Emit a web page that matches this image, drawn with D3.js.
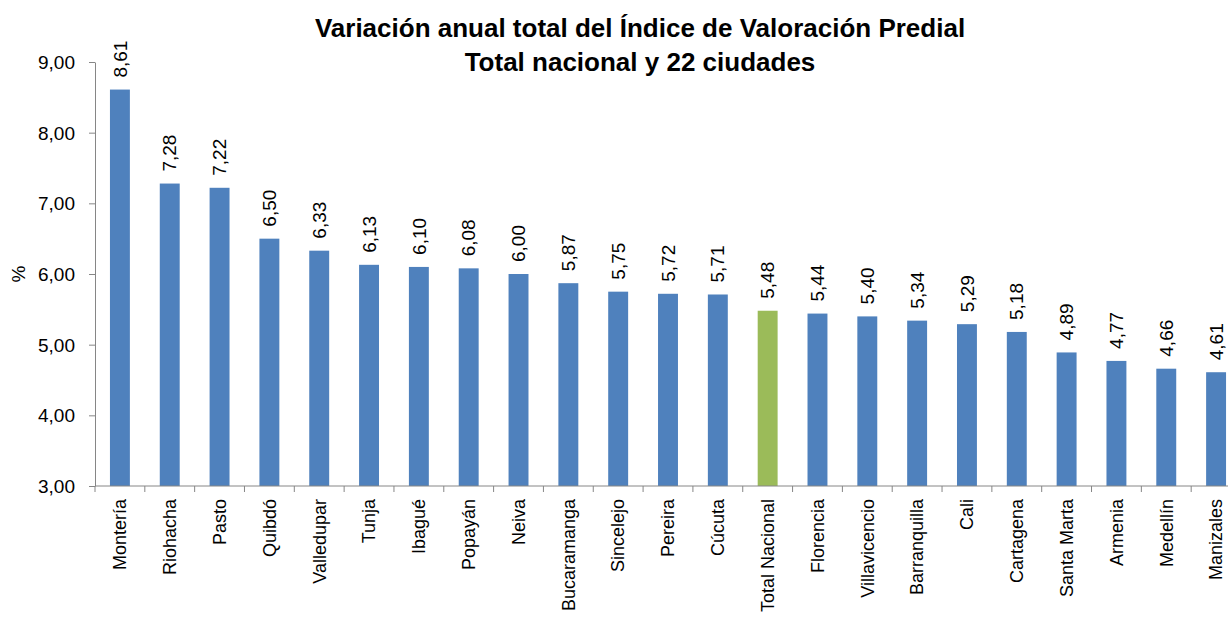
<!DOCTYPE html>
<html>
<head>
<meta charset="utf-8">
<script src="https://cdn.jsdelivr.net/npm/d3@7"></script>
<style>
  body { margin: 0; background: #fff; }
  text { font-family: "Liberation Sans", "DejaVu Sans", sans-serif; fill: #000; }
</style>
</head>
<body>
<div id="chart"></div>
<script>

const ciudades = [ "Montería", "Riohacha", "Pasto", "Quibdó", "Valledupar", "Tunja", "Ibagué",
	"Popayán", "Neiva", "Bucaramanga", "Sincelejo", "Pereira", "Cúcuta", "Total Nacional",
	"Florencia", "Villavicencio", "Barranquilla", "Cali", "Cartagena", "Santa Marta",
	"Armenia", "Medellín", "Manizales" ] ;
const variacion = [ 8.61, 7.28, 7.22, 6.50, 6.33, 6.13, 6.10, 6.08, 6.00, 5.87, 5.75, 5.72,
	5.71, 5.48, 5.44, 5.40, 5.34, 5.29, 5.18, 4.89, 4.77, 4.66, 4.61 ] ;
const yTicks = [ 3, 4, 5, 6, 7, 8, 9 ] ;
const titulo = [ "Variación anual total del Índice de Valoración Predial", "Total nacional y 22 ciudades" ] ;

const width = 1228 ;
const height = 617 ;
const mLeft = 95, mTop = 62, mBottom = 486, mRight = 1241 ;
const fs = 19 ;
const fsCat = 18 ;

const fmt = v => d3.format(".2f")(v).replace(".", ",") ;

const svg = d3.select("#chart").append("svg")
	.attr("width", width)
	.attr("height", height) ;

const data = ciudades.map( (c, i) => ({ ciudad: c, valor: variacion[i] }) ) ;

const x = d3.scaleBand()
	.domain( ciudades )
	.range( [mLeft, mRight] )
	.paddingInner( 0.6 )
	.paddingOuter( 0.3 ) ;

const y = d3.scaleLinear()
	.domain( [3, 9] )
	.range( [mBottom, mTop] ) ;

// titulo
svg.selectAll("text.title")
	.data( titulo )
	.enter()
		.append("text")
			.attr("class", "title")
			.attr("x", 640)
			.attr("y", (d, i) => 37 + i * 34)
			.attr("text-anchor", "middle")
			.style("font-size", "26px")
			.style("font-weight", "bold")
			.text( d => d ) ;

// eje y
const yAxis = svg.append("g")
	.attr("transform", `translate(${mLeft},0)`)
	.call( d3.axisLeft(y).tickValues(yTicks).tickFormat(fmt).tickSize(6).tickSizeOuter(0) ) ;
yAxis.select(".domain").attr("stroke", "#868686") ;
yAxis.selectAll(".tick line").attr("stroke", "#868686") ;
yAxis.selectAll(".tick text")
	.attr("x", -20)
	.attr("dy", "0.35em")
	.style("font-size", fs + "px")
	.style("font-family", "'Liberation Sans', sans-serif") ;

svg.append("text")
	.attr("transform", `translate(25,${y(6)}) rotate(-90)`)
	.attr("text-anchor", "middle")
	.style("font-size", fs + "px")
	.text("%") ;

// barras
svg.selectAll("rect.bar")
	.data( data )
	.enter()
		.append("rect")
			.attr("class", "bar")
			.attr("x", d => x(d.ciudad))
			.attr("width", x.bandwidth())
			.attr("y", d => y(d.valor))
			.attr("height", d => y(3) - y(d.valor))
			.attr("fill", d => d.ciudad === "Total Nacional" ? "#9BBB59" : "#4F81BD") ;

// etiquetas de valor
svg.selectAll("text.value")
	.data( data )
	.enter()
		.append("text")
			.attr("class", "value")
			.attr("transform", d => `translate(${x(d.ciudad) + x.bandwidth() / 2 + fs * 0.35},${y(d.valor) - 12}) rotate(-90)`)
			.style("font-size", fs + "px")
			.text( d => fmt(d.valor) ) ;

// eje x
const step = x.step() ;
const xAxis = svg.append("g") ;
xAxis.append("line")
	.attr("x1", mLeft).attr("x2", mRight)
	.attr("y1", mBottom).attr("y2", mBottom)
	.attr("stroke", "#868686") ;
xAxis.selectAll("line.tick")
	.data( d3.range(ciudades.length + 1) )
	.enter()
		.append("line")
			.attr("class", "tick")
			.attr("x1", i => mLeft + i * step).attr("x2", i => mLeft + i * step)
			.attr("y1", mBottom).attr("y2", mBottom + 6)
			.attr("stroke", "#868686") ;
xAxis.selectAll("text.cat")
	.data( ciudades )
	.enter()
		.append("text")
			.attr("class", "cat")
			.attr("transform", d => `translate(${x(d) + x.bandwidth() / 2 + fsCat * 0.35},${mBottom + 13}) rotate(-90)`)
			.attr("text-anchor", "end")
			.style("font-size", fsCat + "px")
			.text( d => d ) ;

</script>
</body>
</html>
